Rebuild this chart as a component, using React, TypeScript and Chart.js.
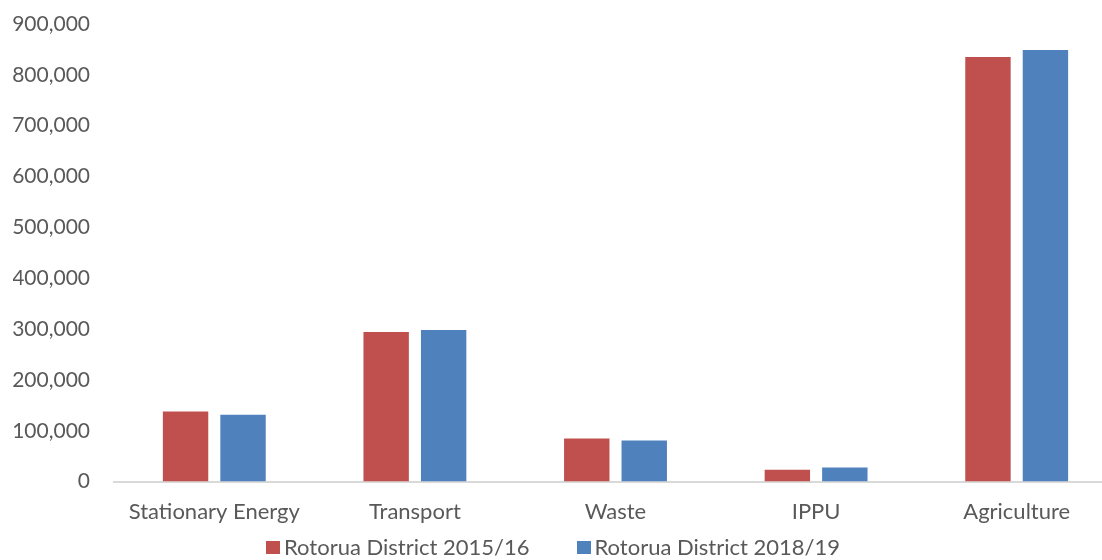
import React, { useEffect, useRef } from "react";
import { Chart, registerables } from "chart.js";

Chart.register(...registerables);

const categories = ["Stationary Energy", "Transport", "Waste", "IPPU", "Agriculture"];
const series2015 = [138000, 294000, 85000, 23500, 835000];
const series2019 = [131500, 298000, 81000, 27500, 849000];
const seriesNames = ["Rotorua District 2015/16", "Rotorua District 2018/19"];
const seriesColors = ["#C0504D", "#4F81BD"];

const FONT = "Lato, 'Open Sans', sans-serif";
const TEXT = "#595959";

export default function App() {
  const ref = useRef<HTMLCanvasElement | null>(null);
  useEffect(() => {
    document.body.style.margin = "0";
    const ctx = ref.current!.getContext("2d")!;
    const chart = new Chart(ctx, {
      type: "bar",
      data: {
        labels: categories,
        datasets: [
          { label: seriesNames[0], data: series2015, backgroundColor: seriesColors[0], borderWidth: 0 },
          { label: seriesNames[1], data: series2019, backgroundColor: seriesColors[1], borderWidth: 0 },
        ],
      },
      options: {
        animation: false,
        responsive: false,
        maintainAspectRatio: false,
        layout: { padding: { left: 13, right: 3, top: 24, bottom: 18 } },
        datasets: { bar: { categoryPercentage: 0.573, barPercentage: 0.79 } },
        plugins: {
          legend: { display: false },
          tooltip: { enabled: false },
        },
        scales: {
          x: {
            grid: { display: false, drawTicks: false },
            border: { display: true, color: "#D9D9D9", width: 2 },
            ticks: { color: TEXT, font: { family: FONT, size: 22 }, padding: 17 },
          },
          y: {
            min: 0,
            max: 900000,
            grid: { display: false, drawTicks: false },
            border: { display: false },
            afterFit: (scale: any) => {
              scale.width = 101;
              scale.paddingTop = 0;
              scale.paddingBottom = 0;
            },
            ticks: {
              stepSize: 100000,
              color: TEXT,
              padding: 24,
              font: { family: FONT, size: 21 },
              callback: (v: any) => Number(v).toLocaleString("en-US"),
            },
          },
        },
      },
    });
    return () => chart.destroy();
  }, []);
  return (
    <div style={{ position: "absolute", left: 0, top: 0, width: 1102, height: 560, background: "#fff", overflow: "hidden" }}>
      <canvas ref={ref} width={1120} height={560} style={{ display: "block" }} />
      <div
        style={{
          position: "absolute",
          left: 2,
          width: 1102,
          top: 533,
          display: "flex",
          justifyContent: "center",
          gap: 47,
          fontFamily: FONT,
          fontSize: 22,
          color: TEXT,
          lineHeight: "28px",
        }}
      >
        {seriesNames.map((name, i) => (
          <div key={name} style={{ display: "flex", alignItems: "center" }}>
            <span style={{ width: 14, height: 13, background: seriesColors[i], marginRight: 4, display: "inline-block" }} />
            <span>{name}</span>
          </div>
        ))}
      </div>
    </div>
  );
}
